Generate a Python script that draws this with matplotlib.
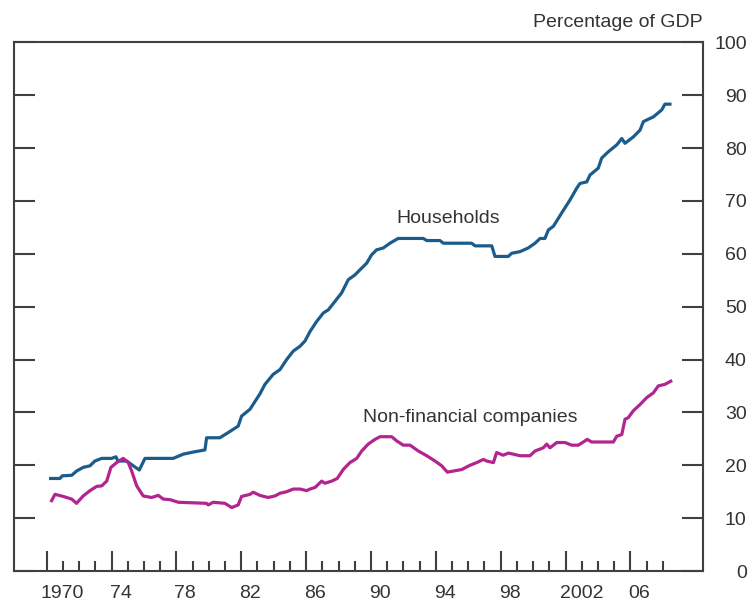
import matplotlib
matplotlib.use("Agg")
import matplotlib.pyplot as plt
import matplotlib.transforms as mtransforms

# Debt as percentage of GDP
hh_year = [1970.24, 1970.81, 1970.96, 1971.54, 1971.84, 1972.25, 1972.67, 1972.97,
           1973.39, 1974.00, 1974.27, 1974.39, 1974.93, 1975.34, 1975.71, 1976.06,
           1977.80, 1978.42, 1979.04, 1979.76, 1979.86, 1980.68, 1981.20, 1981.81,
           1982.02, 1982.54, 1983.15, 1983.46, 1983.97, 1984.39, 1984.80, 1985.21,
           1985.62, 1985.93, 1986.24, 1986.65, 1987.06, 1987.37, 1987.78, 1988.19,
           1988.60, 1989.01, 1989.43, 1989.73, 1990.04, 1990.35, 1990.76, 1991.17,
           1991.68, 1993.23, 1993.44, 1994.26, 1994.46, 1996.21, 1996.42, 1997.45,
           1997.65, 1998.47, 1998.68, 1999.19, 1999.70, 2000.12, 2000.43, 2000.73,
           2000.94, 2001.25, 2001.76, 2002.28, 2002.69, 2002.89, 2003.31, 2003.51,
           2004.02, 2004.23, 2004.64, 2005.16, 2005.47, 2005.67, 2006.18, 2006.60,
           2006.80, 2007.42, 2007.93, 2008.13, 2008.44]
hh_pct = [17.5, 17.5, 18.0, 18.1, 18.9, 19.6, 19.9, 20.8,
          21.3, 21.3, 21.6, 20.8, 20.8, 19.9, 19.1, 21.3,
          21.3, 22.1, 22.5, 22.9, 25.2, 25.2, 26.2, 27.4,
          29.3, 30.6, 33.5, 35.3, 37.2, 38.1, 40.0, 41.6,
          42.5, 43.5, 45.3, 47.2, 48.8, 49.4, 51.0, 52.6,
          55.1, 56.0, 57.3, 58.2, 59.8, 60.75, 61.1, 62.0,
          62.9, 62.9, 62.5, 62.5, 62.0, 62.0, 61.5, 61.5,
          59.5, 59.5, 60.1, 60.4, 61.1, 62.0, 62.9, 62.9,
          64.5, 65.2, 67.7, 70.2, 72.4, 73.3, 73.6, 74.9,
          76.2, 78.1, 79.3, 80.6, 81.8, 80.9, 82.1, 83.4,
          85.0, 85.9, 87.2, 88.3, 88.3]

nfc_year = [1970.30, 1970.51, 1971.02, 1971.54, 1971.84, 1972.25, 1972.67, 1973.08,
            1973.39, 1973.70, 1973.96, 1974.31, 1974.72, 1975.03, 1975.24, 1975.55,
            1975.95, 1976.47, 1976.88, 1977.19, 1977.60, 1978.11, 1979.86, 1979.96,
            1980.27, 1980.99, 1981.41, 1981.81, 1982.02, 1982.54, 1982.74, 1983.15,
            1983.66, 1984.08, 1984.39, 1984.80, 1985.21, 1985.62, 1986.03, 1986.24,
            1986.55, 1986.96, 1987.16, 1987.58, 1987.92, 1988.29, 1988.70, 1989.12,
            1989.43, 1989.83, 1990.25, 1990.56, 1991.28, 1991.59, 1991.99, 1992.41,
            1992.92, 1993.44, 1993.95, 1994.36, 1994.71, 1995.08, 1995.60, 1996.11,
            1996.52, 1996.93, 1997.14, 1997.55, 1997.75, 1998.16, 1998.47, 1998.78,
            1999.19, 1999.81, 2000.12, 2000.63, 2000.84, 2001.04, 2001.46, 2001.97,
            2002.38, 2002.79, 2003.10, 2003.34, 2003.61, 2004.95, 2005.16, 2005.47,
            2005.67, 2005.87, 2006.18, 2006.60, 2007.01, 2007.42, 2007.72, 2008.13,
            2008.49]
nfc_pct = [13.3, 14.5, 14.1, 13.6, 12.8, 14.2, 15.2, 16.0,
           16.1, 17.0, 19.6, 20.5, 21.3, 20.5, 18.9, 16.1,
           14.2, 13.9, 14.3, 13.6, 13.5, 13.0, 12.8, 12.5,
           13.0, 12.8, 12.0, 12.5, 14.1, 14.5, 14.9, 14.3,
           13.9, 14.2, 14.7, 15.0, 15.5, 15.5, 15.2, 15.5,
           15.8, 17.0, 16.6, 17.0, 17.5, 19.2, 20.5, 21.3,
           22.7, 24.0, 24.9, 25.4, 25.4, 24.6, 23.8, 23.8,
           22.7, 21.8, 20.8, 19.9, 18.7, 18.9, 19.2, 20.0,
           20.5, 21.1, 20.8, 20.5, 22.4, 21.9, 22.3, 22.1,
           21.8, 21.8, 22.7, 23.3, 24.0, 23.3, 24.3, 24.3,
           23.8, 23.8, 24.4, 24.9, 24.4, 24.4, 25.5, 25.8,
           28.7, 29.0, 30.3, 31.5, 32.8, 33.7, 35.0, 35.3,
           35.9]

major_years = [1970, 1974, 1978, 1982, 1986, 1990, 1994, 1998, 2002, 2006]
major_labels = ["1970", "74", "78", "82", "86", "90", "94", "98", "2002", "06"]
minor_years = list(range(1970, 2009))
y_ticks = list(range(0, 101, 10))

text_col = "#333333"
axis_col = "#404040"
plt.rcParams["font.family"] = ["Liberation Sans", "DejaVu Sans"]
plt.rcParams["font.size"] = 14

fig = plt.figure(figsize=(7.49, 6.05), dpi=100)
ax = fig.add_axes([14.3 / 749, 34 / 605, (703 - 14.3) / 749, (571 - 42.3) / 605])

ax.plot(hh_year, hh_pct, color="#1a5c8c", lw=2.3, solid_joinstyle="round")
ax.plot(nfc_year, nfc_pct, color="#b2248f", lw=2.3, solid_joinstyle="round")

ax.set_xlim(1968.0, 2010.48)
ax.set_ylim(0, 100)

for s in ax.spines.values():
    s.set_color(axis_col)
    s.set_linewidth(1.5)

ax.set_yticks(y_ticks)
ax.tick_params(axis="y", which="both", left=True, right=True, labelleft=False,
               labelright=True, direction="in", length=15, width=1.5,
               color=axis_col, labelcolor=text_col, pad=31.5)
plt.setp(ax.yaxis.get_majorticklabels(), ha="right")

ax.set_xticks(major_years)
ax.set_xticklabels(major_labels)
ax.set_xticks(minor_years, minor=True)
ax.tick_params(axis="x", which="major", direction="in", length=14.4, width=1.5,
               color=axis_col, labelcolor=text_col, pad=10)
ax.tick_params(axis="x", which="minor", direction="in", length=7.2, width=1.5,
               color=axis_col)

# labels sit a little right of their ticks
for lab in ax.get_xticklabels():
    dx = -6 if len(lab.get_text()) > 2 else -2
    lab.set_ha("left")
    lab.set_transform(lab.get_transform() +
                      mtransforms.ScaledTranslation(dx / 100, 0, fig.dpi_scale_trans))

ax.text(1991.54, 65.9, "Households", color=text_col, ha="left", va="baseline")
ax.text(1989.49, 28.2, "Non-financial companies", color=text_col, ha="left",
        va="baseline")
fig.text(703 / 749, 1 - 26.7 / 605, "Percentage of GDP", color=text_col,
         ha="right", va="baseline")

fig.savefig("out.png", dpi=100)
